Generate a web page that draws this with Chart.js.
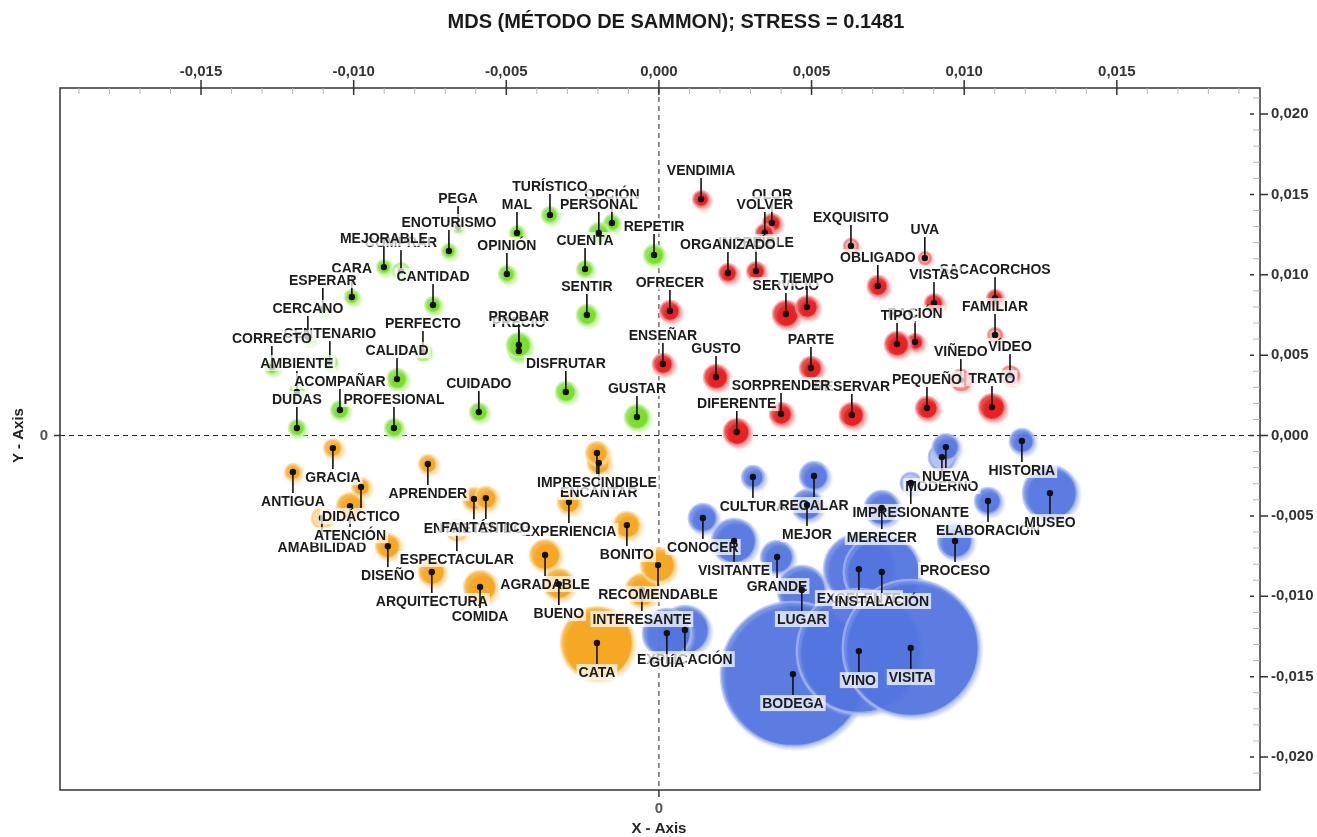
<!DOCTYPE html>
<html>
<head>
<meta charset="utf-8">
<script src="https://cdn.jsdelivr.net/npm/chart.js@4.4.0/dist/chart.umd.min.js"></script>
<style>
  html, body { margin: 0; padding: 0; background: #fff; }
  #wrap { width: 1317px; height: 837px; }
</style>
</head>
<body>
<div id="wrap"><canvas id="c" width="1317" height="837"></canvas></div>
<script>
// Configuración MDS (Sammon): coordenadas de cada término y su frecuencia

// Grupo verde
const verdeEtiquetas = ['COMPRAR','MEJORABLE','PEGA','ENOTURISMO','CARA','CANTIDAD','ESPERAR','CENTENARIO','CERCANO','CORRECTO','AMBIENTE','PERFECTO','CALIDAD','ACOMPAÑAR','DUDAS','PROFESIONAL','CUIDADO','PRECIO','PROBAR','DISFRUTAR','GUSTAR','SENTIR','CUENTA','OPINIÓN','MAL','OPCIÓN','TURÍSTICO','PERSONAL','REPETIR'];
const verdeX = [-0.00845,-0.00901,-0.00658,-0.00688,-0.01006,-0.00740,-0.01101,-0.01078,-0.01150,-0.01268,-0.01186,-0.00773,-0.00858,-0.01045,-0.01186,-0.00868,-0.00590,-0.00459,-0.00459,-0.00305,-0.00072,-0.00236,-0.00242,-0.00498,-0.00465,-0.00154,-0.00357,-0.00197,-0.00016];
const verdeY = [0.01023,0.01048,0.01297,0.01148,0.00862,0.00812,0.00787,0.00457,0.00613,0.00426,0.00271,0.00519,0.00351,0.00159,0.00047,0.00047,0.00146,0.00526,0.00563,0.00271,0.00115,0.00750,0.01036,0.01005,0.01260,0.01322,0.01372,0.01260,0.01123];
const verdeFrecuencia = [16,12,6,12,12,16,6,12,12,12,12,16,25,20,16,20,20,25,36,25,36,25,16,16,12,16,16,25,25];

// Grupo rojo
const rojoEtiquetas = ['VENDIMIA','OLOR','VOLVER','INCREÍBLE','ORGANIZADO','OFRECER','ENSEÑAR','GUSTO','DIFERENTE','RESERVAR','SORPRENDER','SERVICIO','TIEMPO','PARTE','EXQUISITO','UVA','OBLIGADO','SACACORCHOS','VISTAS','FAMILIAR','RACIÓN','TIPO','VÍDEO','VIÑEDO','PEQUEÑO','TRATO'];
const rojoX = [0.00138,0.00370,0.00347,0.00318,0.00226,0.00036,0.00013,0.00187,0.00255,0.00632,0.00400,0.00416,0.00485,0.00498,0.00629,0.00871,0.00717,0.01101,0.00901,0.01101,0.00839,0.00780,0.01150,0.00989,0.00878,0.01091];
const rojoY = [0.01471,0.01322,0.01260,0.01023,0.01011,0.00775,0.00445,0.00364,0.00022,0.00128,0.00134,0.00756,0.00799,0.00420,0.01179,0.01104,0.00930,0.00855,0.00824,0.00625,0.00582,0.00569,0.00376,0.00345,0.00171,0.00177];
const rojoFrecuencia = [16,20,20,20,20,25,25,36,42,36,30,42,30,30,12,9,25,16,20,12,16,36,20,25,30,42];

// Grupo naranja
const naranjaEtiquetas = ['AMABILIDAD','ATENCIÓN','ANTIGUA','GRACIA','DIDÁCTICO','DISEÑO','ESPECTACULAR','APRENDER','EXPERIENCIA','ENTRETENIDO','FANTÁSTICO','ARQUITECTURA','COMIDA','AGRADABLE','BUENO','ENCANTAR','IMPRESCINDIBLE','BONITO','INTERESANTE','RECOMENDABLE','CATA'];
const naranjaX = [-0.01104,-0.01012,-0.01199,-0.01068,-0.00976,-0.00888,-0.00662,-0.00757,-0.00295,-0.00606,-0.00567,-0.00744,-0.00586,-0.00373,-0.00328,-0.00197,-0.00203,-0.00105,-0.00056,-0.00003,-0.00203];
const naranjaY = [-0.00513,-0.00439,-0.00227,-0.00078,-0.00320,-0.00688,-0.00588,-0.00177,-0.00414,-0.00395,-0.00389,-0.00849,-0.00942,-0.00743,-0.00924,-0.00171,-0.00109,-0.00557,-0.00961,-0.00806,-0.01291];
const naranjaFrecuencia = [25,42,16,20,20,36,25,20,30,30,30,42,64,56,56,30,30,42,64,72,324];

// Grupo azul
const azulEtiquetas = ['HISTORIA','MODERNO','NUEVA','IMPRESIONANTE','ELABORACIÓN','MUSEO','PROCESO','MERECER','CULTURA','REGALAR','MEJOR','CONOCER','VISITANTE','GRANDE','LUGAR','EXCELENTE','INSTALACIÓN','EXPLICACIÓN','GUÍA','BODEGA','VINO','VISITA'];
const azulX = [0.01189,0.00927,0.00940,0.00825,0.01078,0.01281,0.00970,0.00730,0.00308,0.00508,0.00485,0.00144,0.00246,0.00387,0.00468,0.00655,0.00730,0.00085,0.00026,0.00439,0.00655,0.00825];
const azulY = [-0.00034,-0.00134,-0.00072,-0.00295,-0.00407,-0.00358,-0.00656,-0.00451,-0.00258,-0.00252,-0.00432,-0.00513,-0.00656,-0.00756,-0.00961,-0.00831,-0.00849,-0.01210,-0.01229,-0.01484,-0.01341,-0.01322];
const azulFrecuencia = [36,42,42,25,42,182,72,72,30,49,56,49,121,64,144,306,361,144,144,1296,961,1156];

// Términos de menor peso, dibujados atenuados
const atenuados = ['PEGA','CERCANO','CENTENARIO','PERFECTO','AMBIENTE','COMPRAR','UVA','FAMILIAR','VIÑEDO','VÍDEO','EXQUISITO','ESPECTACULAR','AMABILIDAD','IMPRESIONANTE','MODERNO'];

// Ejes
const xMarcas = [-0.015,-0.010,-0.005,0,0.005,0.010,0.015];
const xMarcasTexto = ['-0,015','-0,010','-0,005','0,000','0,005','0,010','0,015'];
const yMarcas = [0.020,0.015,0.010,0.005,0,-0.005,-0.010,-0.015,-0.020];
const yMarcasTexto = ['0,020','0,015','0,010','0,005','0,000','-0,005','-0,010','-0,015','-0,020'];
const titulo = 'MDS (MÉTODO DE SAMMON); STRESS = 0.1481';

const grupos = [
  { etiquetas: verdeEtiquetas, x: verdeX, y: verdeY, f: verdeFrecuencia, rgb: [122, 222, 44], alfa: 1, orden: 3 },
  { etiquetas: rojoEtiquetas, x: rojoX, y: rojoY, f: rojoFrecuencia, rgb: [232, 34, 34], alfa: 1, orden: 2 },
  { etiquetas: naranjaEtiquetas, x: naranjaX, y: naranjaY, f: naranjaFrecuencia, rgb: [246, 168, 36], alfa: 1, orden: 1 },
  { etiquetas: azulEtiquetas, x: azulX, y: azulY, f: azulFrecuencia, rgb: [72, 108, 222], alfa: 0.84, orden: 0 }
];

const radio = f => 2 * Math.sqrt(f);
const rgba = (c, a) => `rgba(${c[0]},${c[1]},${c[2]},${a})`;
const claro = c => c.map(v => Math.round(v + (255 - v) * 0.55));

const datasets = grupos.map(g => ({
  label: g.etiquetas[0],
  order: g.orden,
  data: g.etiquetas.map((t, i) => ({ x: g.x[i], y: g.y[i], r: radio(g.f[i]), t })),
  backgroundColor: ctx => {
    const p = ctx.raw;
    return p && atenuados.includes(p.t) ? rgba(claro(g.rgb), 0.75) : rgba(g.rgb, g.alfa);
  },
  borderColor: ctx => {
    const p = ctx.raw;
    return p && atenuados.includes(p.t) ? rgba(g.rgb, 0.35) : rgba(claro(g.rgb), 0.7);
  },
  borderWidth: 2.5
}));

const FUENTE = "'Liberation Sans', Arial, sans-serif";

const decoracion = {
  id: 'decoracion',
  beforeDatasetsDraw(chart) {
    const { ctx, chartArea: a, scales: { x, y } } = chart;
    const x0 = x.getPixelForValue(0), y0 = y.getPixelForValue(0);
    ctx.save();
    ctx.strokeStyle = '#222';
    ctx.lineWidth = 1;
    ctx.setLineDash([5, 4]);
    ctx.beginPath();
    ctx.moveTo(x0, a.top); ctx.lineTo(x0, a.bottom);
    ctx.moveTo(a.left, y0); ctx.lineTo(a.right, y0);
    ctx.stroke();
    ctx.restore();
  },
  beforeDatasetDraw(chart, args) {
    // halo claro desplazado bajo cada burbuja
    const ctx = chart.ctx;
    const g = grupos[args.index];
    ctx.save();
    ctx.shadowColor = rgba(claro(g.rgb), 0.8);
    ctx.shadowOffsetX = 2;
    ctx.shadowOffsetY = 2;
    ctx.shadowBlur = 3;
  },
  afterDatasetDraw(chart) {
    chart.ctx.restore();
  },
  afterDatasetsDraw(chart) {
    const ctx = chart.ctx;
    ctx.save();
    ctx.font = `bold 14px ${FUENTE}`;
    ctx.textAlign = 'center';
    ctx.textBaseline = 'middle';
    chart.data.datasets.forEach((ds, di) => {
      const meta = chart.getDatasetMeta(di);
      ds.data.forEach((p, i) => {
        const el = meta.data[i];
        const px = el.x, py = el.y;
        const dir = p.y >= 0 ? -1 : 1;
        const cy = py + dir * 29;
        const w = ctx.measureText(p.t).width;
        // palito
        ctx.strokeStyle = '#111';
        ctx.lineWidth = 1.6;
        ctx.beginPath();
        ctx.moveTo(px, py);
        ctx.lineTo(px, cy - dir * 8);
        ctx.stroke();
        // caja
        ctx.fillStyle = 'rgba(255,255,255,0.72)';
        ctx.fillRect(px - w / 2 - 2, cy - 8, w + 4, 16);
        ctx.fillStyle = '#1b1b1b';
        ctx.fillText(p.t, px, cy + 1);
        // punto
        ctx.beginPath();
        ctx.arc(px, py, 3.2, 0, Math.PI * 2);
        ctx.fillStyle = '#111';
        ctx.fill();
      });
    });
    ctx.restore();
  },
  afterDraw(chart) {
    const { ctx, chartArea: a, scales: { x, y } } = chart;
    ctx.save();
    // marco
    ctx.strokeStyle = '#333';
    ctx.lineWidth = 1.5;
    ctx.strokeRect(a.left, a.top, a.right - a.left, a.bottom - a.top);

    // marcas menores
    ctx.strokeStyle = '#b5b5b5';
    ctx.lineWidth = 1;
    ctx.beginPath();
    for (let k = -19; k <= 19; k++) {
      if (k % 5 === 0) continue;
      const px = x.getPixelForValue(k / 1000);
      ctx.moveTo(px, a.top); ctx.lineTo(px, a.top + 6);
    }
    for (let k = -21; k <= 21; k++) {
      if (k % 5 === 0) continue;
      const py = y.getPixelForValue(k / 1000);
      ctx.moveTo(a.right - 7, py); ctx.lineTo(a.right, py);
    }
    ctx.stroke();

    // marcas mayores
    ctx.strokeStyle = '#333';
    ctx.lineWidth = 1.5;
    ctx.beginPath();
    xMarcas.forEach(v => {
      const px = x.getPixelForValue(v);
      ctx.moveTo(px, a.top - 8); ctx.lineTo(px, a.top + 7);
    });
    yMarcas.forEach(v => {
      const py = y.getPixelForValue(v);
      ctx.moveTo(a.right - 10, py); ctx.lineTo(a.right - 6, py);
      ctx.moveTo(a.right, py); ctx.lineTo(a.right + 8, py);
    });
    const x0 = x.getPixelForValue(0), y0 = y.getPixelForValue(0);
    ctx.moveTo(a.left - 6, y0); ctx.lineTo(a.left, y0);
    ctx.moveTo(x0, a.bottom); ctx.lineTo(x0, a.bottom + 7);
    ctx.stroke();

    // textos de marcas
    ctx.fillStyle = '#333';
    ctx.font = `bold 15px ${FUENTE}`;
    ctx.textAlign = 'center';
    ctx.textBaseline = 'middle';
    xMarcas.forEach((v, i) => ctx.fillText(xMarcasTexto[i], x.getPixelForValue(v), a.top - 16));
    ctx.textAlign = 'left';
    yMarcas.forEach((v, i) => ctx.fillText(yMarcasTexto[i], a.right + 11, y.getPixelForValue(v)));

    ctx.fillStyle = '#555';
    ctx.textAlign = 'right';
    ctx.fillText('0', a.left - 12, y0);
    ctx.textAlign = 'center';
    ctx.fillText('0', x0, a.bottom + 19);

    // títulos de ejes
    ctx.fillStyle = '#222';
    ctx.fillText('X - Axis', x0, a.bottom + 39);
    ctx.save();
    ctx.translate(19, y0);
    ctx.rotate(-Math.PI / 2);
    ctx.fillText('Y - Axis', 0, 0);
    ctx.restore();

    // título
    ctx.font = `bold 20px ${FUENTE}`;
    ctx.fillStyle = '#1a1a1a';
    ctx.fillText(titulo, 676, 22);
    ctx.restore();
  }
};

new Chart(document.getElementById('c'), {
  type: 'bubble',
  data: { datasets },
  options: {
    responsive: false,
    animation: false,
    events: [],
    layout: { autoPadding: false, padding: { left: 60, top: 88, right: 57, bottom: 47 } },
    scales: {
      x: { type: 'linear', min: -0.01962, max: 0.01969, display: false },
      y: { type: 'linear', min: -0.02205, max: 0.02162, display: false }
    },
    plugins: {
      legend: { display: false },
      tooltip: { enabled: false },
      title: { display: false }
    }
  },
  plugins: [decoracion]
});
</script>
</body>
</html>
